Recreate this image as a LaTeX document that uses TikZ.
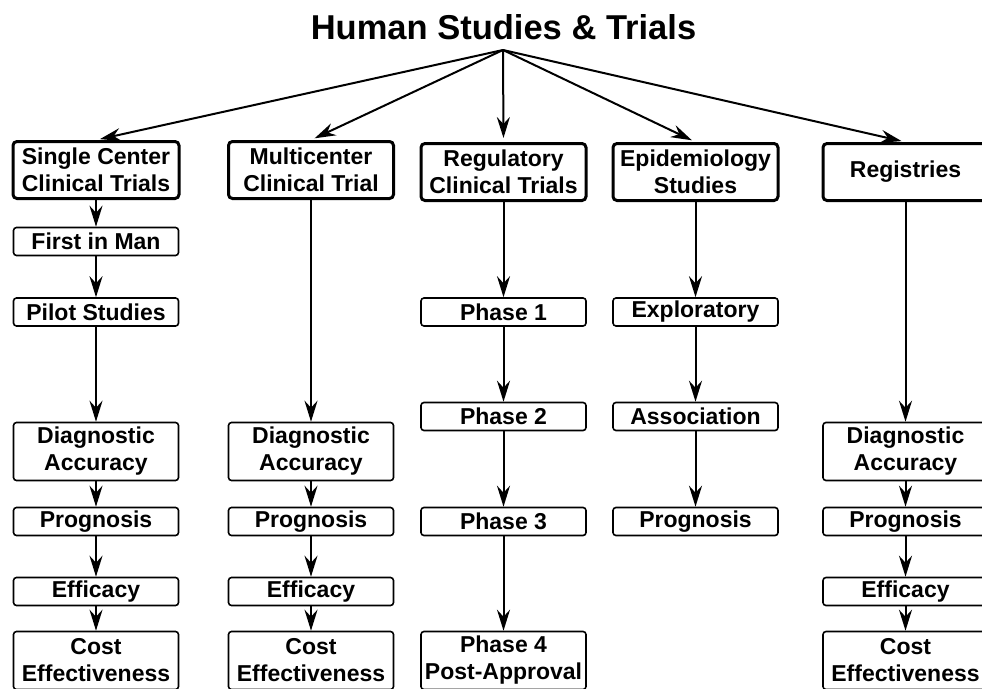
\documentclass[tikz,border=0pt]{standalone}
\usepackage{fontspec}
\setmainfont{Liberation Sans}
\usetikzlibrary{arrows.meta}
\begin{document}
\begin{tikzpicture}[x=1pt,y=-1pt,
  basefont/.style={font=\bfseries\fontsize{23}{27}\selectfont},
  topbox/.style={basefont,draw,line width=3pt,rounded corners=4pt,minimum width=165pt,minimum height=57pt,inner sep=0pt,align=center},
  subbox/.style={basefont,draw,line width=1.6pt,rounded corners=3pt,minimum width=165pt,minimum height=28pt,inner sep=0pt,align=center},
  tallbox/.style={subbox,minimum height=58pt},
  arr/.style={line width=2pt,-{Stealth[length=21pt,width=13pt,inset=7pt]}},
  tarr/.style={arr,shorten >=4pt}]
\useasboundingbox (0,0) rectangle (982,688);
\clip (0,0) rectangle (982,688);
% title
\node[font=\bfseries\fontsize{34.5}{40}\selectfont] (title) at (503.5,27) {Human Studies \& Trials};
\coordinate (top) at (503,50);
% column 1
\node[topbox,minimum width=166pt] (sc) at (96,170) {Single Center\\Clinical Trials};
\node[subbox] (fim) at (96,241.5) {First in Man};
\node[subbox] (pilot) at (96,312) {Pilot Studies};
\node[tallbox] (diag1) at (96,451.5) {Diagnostic\\Accuracy};
\node[subbox] (prog1) at (96,521.5) {Prognosis};
\node[subbox] (eff1) at (96,591.5) {Efficacy};
\node[tallbox] (cost1) at (96,660.5) {Cost\\Effectiveness};
% column 2
\node[topbox] (mc) at (311,170) {Multicenter\\Clinical Trial};
\node[tallbox] (diag2) at (311,451.5) {Diagnostic\\Accuracy};
\node[subbox] (prog2) at (311,521.5) {Prognosis};
\node[subbox] (eff2) at (311,591.5) {Efficacy};
\node[tallbox] (cost2) at (311,660.5) {Cost\\Effectiveness};
% column 3
\node[topbox] (reg) at (503.5,172) {Regulatory\\Clinical Trials};
\node[subbox] (ph1) at (503.5,312) {Phase 1};
\node[subbox] (ph2) at (503.5,416.5) {Phase 2};
\node[subbox] (ph3) at (503.5,521.5) {Phase 3};
\node[tallbox] (ph4) at (503.5,660.5) {Phase 4\\Post-Approval};
% column 4
\node[topbox] (epi) at (695.5,172) {Epidemiology\\Studies};
\node[subbox] (expl) at (695.5,312) {Exploratory};
\node[subbox] (assoc) at (695.5,416.5) {Association};
\node[subbox] (prog4) at (695.5,521.5) {Prognosis};
% column 5
\node[topbox] (regi) at (905.5,172) {Registries};
\node[tallbox] (diag5) at (905.5,451.5) {Diagnostic\\Accuracy};
\node[subbox] (prog5) at (905.5,521.5) {Prognosis};
\node[subbox] (eff5) at (905.5,591.5) {Efficacy};
\node[tallbox] (cost5) at (905.5,660.5) {Cost\\Effectiveness};
% title arrows
\draw[tarr] (top) -- (sc.north);
\draw[tarr] (top) -- (mc.north);
\draw[tarr] (top) -- (reg.north);
\draw[tarr] (top) -- (epi.north);
\draw[tarr] (top) -- (regi.north);
% column arrows
\draw[arr] (sc) -- (fim);
\draw[arr] (fim) -- (pilot);
\draw[arr] (pilot) -- (diag1);
\draw[arr] (diag1) -- (prog1);
\draw[arr] (prog1) -- (eff1);
\draw[arr] (eff1) -- (cost1);
\draw[arr] (mc) -- (diag2);
\draw[arr] (diag2) -- (prog2);
\draw[arr] (prog2) -- (eff2);
\draw[arr] (eff2) -- (cost2);
\draw[arr] (reg) -- (ph1);
\draw[arr] (ph1) -- (ph2);
\draw[arr] (ph2) -- (ph3);
\draw[arr] (ph3) -- (ph4);
\draw[arr] (epi) -- (expl);
\draw[arr] (expl) -- (assoc);
\draw[arr] (assoc) -- (prog4);
\draw[arr] (regi) -- (diag5);
\draw[arr] (diag5) -- (prog5);
\draw[arr] (prog5) -- (eff5);
\draw[arr] (eff5) -- (cost5);
\end{tikzpicture}
\end{document}
